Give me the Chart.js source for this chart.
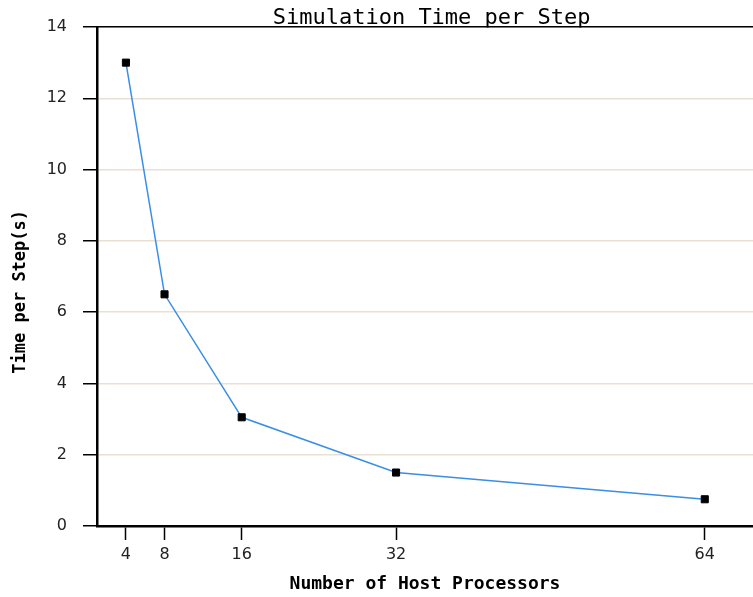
<!DOCTYPE html>
<html>
<head>
<meta charset="utf-8">
<script src="https://cdn.jsdelivr.net/npm/chart.js@4/dist/chart.umd.min.js"></script>
<style>
  html, body { margin: 0; padding: 0; background: #fff; overflow: hidden; }
</style>
</head>
<body>
<canvas id="chartTempo" width="753" height="597"></canvas>
<script>
// dados
var processadores = [4, 8, 16, 32, 64];
var tempoPorPasso = [13, 6.5, 3.05, 1.5, 0.75];
var ticksY = [0, 2, 4, 6, 8, 10, 12, 14];

var pontos = [];
for (let i = 0; i < processadores.length; i++) {
    pontos.push({ x: processadores[i], y: tempoPorPasso[i] });
}

var ctxTempo = document.getElementById('chartTempo');

new Chart(ctxTempo, {
    type: 'scatter',
    data: {
        datasets: [{
            label: 'Time per Step',
            data: pontos,
            showLine: true,
            borderColor: '#3a8ee6',
            borderWidth: 1.5,
            backgroundColor: '#000',
            pointBackgroundColor: '#000',
            pointBorderColor: '#000',
            pointStyle: 'rect',
            pointRadius: 5,
            pointBorderWidth: 1,
            tension: 0
        }]
    },
    options: {
        responsive: false,
        animation: false,
        layout: { padding: 0, autoPadding: false },
        plugins: {
            legend: { display: false },
            tooltip: { enabled: false }
        },
        scales: {
            x: {
                type: 'linear',
                position: 'bottom',
                min: 1,
                max: 69,
                afterBuildTicks: function (escala) {
                    escala.ticks = processadores.map(v => ({ value: v }));
                },
                afterFit: function (escala) { escala.height = 71; },
                ticks: {
                    color: '#222',
                    padding: 5,
                    font: { family: 'DejaVu Sans', size: 16 }
                },
                grid: {
                    drawOnChartArea: false,
                    tickColor: '#000',
                    tickLength: 14,
                    tickWidth: 1.5
                },
                border: { color: '#000', width: 2.5 },
                title: {
                    display: true,
                    text: 'Number of Host Processors',
                    color: '#000',
                    font: { family: 'DejaVu Sans Mono', size: 18, weight: 'bold' },
                    padding: { top: 0, bottom: 2 }
                }
            },
            x2: {
                type: 'linear',
                position: 'top',
                display: true,
                afterFit: function (escala) { escala.height = 27; },
                ticks: { display: false },
                grid: { drawOnChartArea: false, drawTicks: false },
                border: { color: '#000', width: 1.5 },
                title: {
                    display: true,
                    text: ' Simulation Time per Step',
                    color: '#000',
                    font: { family: 'DejaVu Sans Mono', size: 22 },
                    padding: { top: 5, bottom: 0 }
                }
            },
            y: {
                type: 'linear',
                min: 0,
                max: 14,
                afterBuildTicks: function (escala) {
                    escala.ticks = ticksY.map(v => ({ value: v }));
                },
                afterFit: function (escala) { escala.width = 97; },
                ticks: {
                    color: '#222',
                    padding: 16,
                    font: { family: 'DejaVu Sans', size: 16 }
                },
                grid: {
                    color: '#eadfd3',
                    lineWidth: 1.5,
                    tickColor: '#000',
                    tickLength: 14,
                    tickWidth: 1.5
                },
                border: { color: '#000', width: 2.5 },
                title: {
                    display: true,
                    text: 'Time per Step(s)   ',
                    color: '#000',
                    font: { family: 'DejaVu Sans Mono', size: 17, weight: 'bold' },
                    padding: { top: 10, bottom: 0 }
                }
            }
        }
    }
});
</script>
</body>
</html>
